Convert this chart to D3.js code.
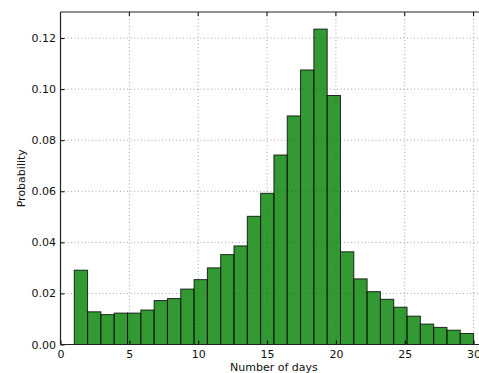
<!DOCTYPE html>
<html>
<head>
<meta charset="utf-8">
<script src="https://cdn.jsdelivr.net/npm/d3@7"></script>
<style>
  body { margin: 0; background: #fff; }
  svg { display: block; font-family: "DejaVu Sans", sans-serif; }
</style>
</head>
<body>
<svg id="chart" width="479" height="373"></svg>
<script>
// histogram of number of days, 30 bins between 1 and 30
const binStart = 1;
const binEnd = 30;
const probs = [0.0291, 0.0128, 0.0117, 0.0123, 0.0123, 0.0135, 0.0172, 0.0180, 0.0217, 0.0254,
               0.0300, 0.0352, 0.0386, 0.0502, 0.0592, 0.0742, 0.0895, 0.1075, 0.1235, 0.0975,
               0.0363, 0.0257, 0.0207, 0.0177, 0.0146, 0.0111, 0.0080, 0.0067, 0.0056, 0.0043];
const xTicks = [0, 5, 10, 15, 20, 25, 30];
const yTicks = [0, 0.02, 0.04, 0.06, 0.08, 0.10, 0.12];

const svg = d3.select('#chart');
const plotLeft = 60.5, plotTop = 12, plotBottom = 344.5;
const fs = 11;

// x limits run a bit past 30, so the right spine falls outside the picture
const x = d3.scaleLinear().domain([0, 31]).range([plotLeft, 60.5 + 13.77 * 31]);
const y = d3.scaleLinear().domain([0, 0.1302]).range([plotBottom, plotTop]);
const plotRight = x(31);

const binW = (binEnd - binStart) / probs.length;
const bins = probs.map((p, i) => ({x0: binStart + i * binW, x1: binStart + (i + 1) * binW, p: p}));

// grid
const grid = svg.append('g');
grid.selectAll('line.v').data(xTicks).enter().append('line')
  .attr('x1', d => x(d)).attr('x2', d => x(d))
  .attr('y1', plotTop).attr('y2', plotBottom)
  .attr('stroke', '#000').attr('stroke-opacity', 0.45)
  .attr('stroke-width', 0.8).attr('stroke-dasharray', '1,2.5');
grid.selectAll('line.h').data(yTicks.slice(1)).enter().append('line')
  .attr('x1', plotLeft).attr('x2', plotRight)
  .attr('y1', d => y(d)).attr('y2', d => y(d))
  .attr('stroke', '#000').attr('stroke-opacity', 0.45)
  .attr('stroke-width', 0.8).attr('stroke-dasharray', '1,2.5');

// bars
svg.append('g').selectAll('rect').data(bins).enter().append('rect')
  .attr('x', d => x(d.x0))
  .attr('y', d => y(d.p))
  .attr('width', d => x(d.x1) - x(d.x0))
  .attr('height', d => y(0) - y(d.p))
  .attr('fill', '#008000').attr('fill-opacity', 0.8)
  .attr('stroke', '#000').attr('stroke-opacity', 0.8).attr('stroke-width', 1);

// axes (matplotlib classic look: inward ticks)
const xAxis = d3.axisBottom(x).tickValues(xTicks).tickFormat(d3.format('d'))
  .tickSizeInner(-4).tickSizeOuter(0);
const yAxis = d3.axisLeft(y).tickValues(yTicks).tickFormat(d3.format('.2f'))
  .tickSizeInner(-4).tickSizeOuter(0).tickPadding(4.5);

const gx = svg.append('g').attr('transform', `translate(0,${plotBottom})`).call(xAxis);
const gy = svg.append('g').attr('transform', `translate(${plotLeft},0)`).call(yAxis);
[gx, gy].forEach(g => {
  g.select('.domain').remove();
  g.selectAll('text').attr('font-size', fs).attr('fill', '#111')
    .attr('font-family', '"DejaVu Sans", sans-serif');
  g.selectAll('.tick line').attr('stroke', '#000');
});
gx.selectAll('text').attr('y', 13.5).attr('dy', 0);

// top ticks
svg.append('g').selectAll('line').data(xTicks).enter().append('line')
  .attr('x1', d => x(d)).attr('x2', d => x(d))
  .attr('y1', plotTop).attr('y2', plotTop + 4).attr('stroke', '#000');

// spines
svg.append('line').attr('x1', plotLeft).attr('x2', plotRight).attr('y1', plotTop).attr('y2', plotTop)
  .attr('stroke', '#222').attr('stroke-width', 1.2);
svg.append('line').attr('x1', plotLeft).attr('x2', plotRight).attr('y1', plotBottom).attr('y2', plotBottom)
  .attr('stroke', '#222').attr('stroke-width', 1.2);
svg.append('line').attr('x1', plotLeft).attr('x2', plotLeft).attr('y1', plotTop).attr('y2', plotBottom)
  .attr('stroke', '#222').attr('stroke-width', 1.2);

// labels
svg.append('text').attr('x', (plotLeft + plotRight) / 2).attr('y', 370.5)
  .attr('text-anchor', 'middle').attr('font-size', fs).attr('fill', '#111').text('Number of days');
svg.append('text')
  .attr('transform', `translate(24.5,${(plotTop + plotBottom) / 2}) rotate(-90)`)
  .attr('text-anchor', 'middle').attr('font-size', fs).attr('fill', '#111').text('Probability');
</script>
</body>
</html>
